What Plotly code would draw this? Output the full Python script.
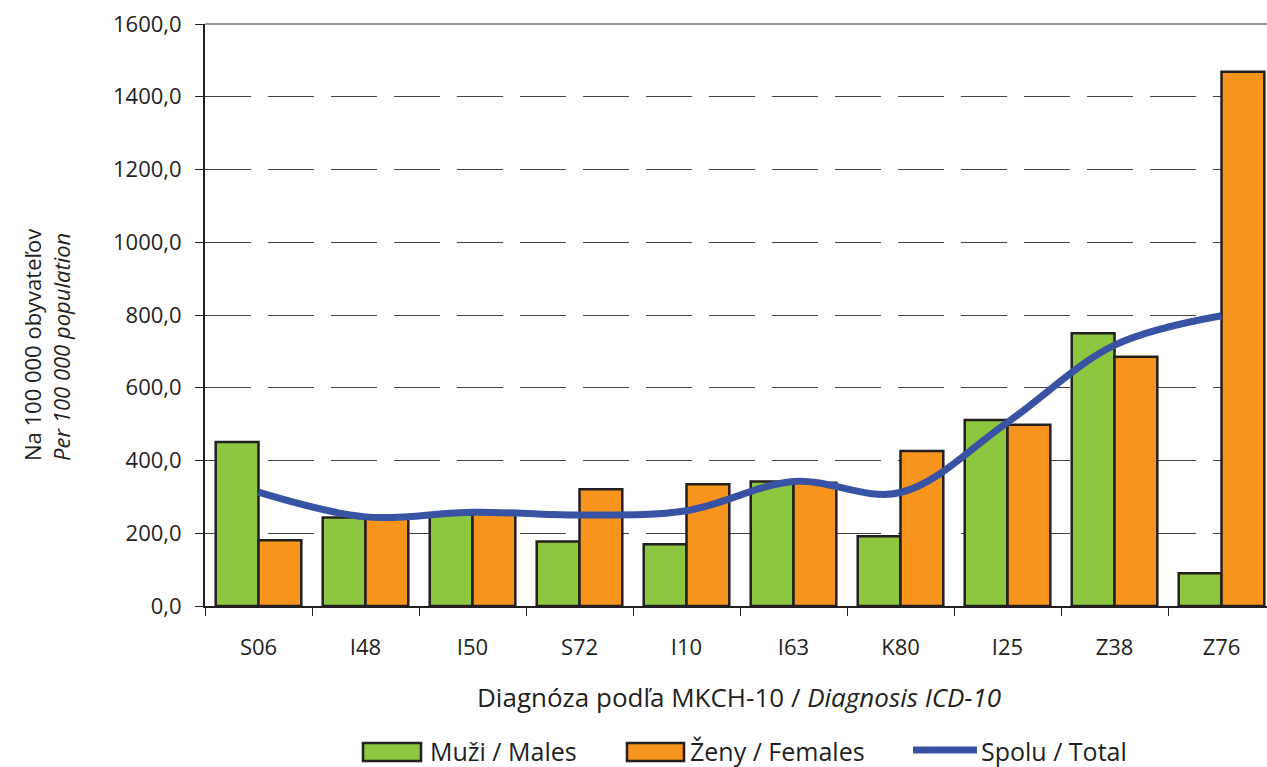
import plotly.graph_objects as go

diagnoses = ["S06", "I48", "I50", "S72", "I10", "I63", "K80", "I25", "Z38", "Z76"]
males = [451, 243, 252, 177, 170, 342, 192, 511, 750, 90]
females = [181, 240, 255, 321, 335, 339, 426, 498, 685, 1469]
total = [313, 245, 258, 250, 262, 342, 312, 505, 717, 798]
y_ticks = [0, 200, 400, 600, 800, 1000, 1200, 1400, 1600]

ink = "#231F20"
green = "#8DC63F"
orange = "#F7941D"
blue = "#3953A4"
family = "Open Sans, Lato, sans-serif"

W, H = 1267, 767
L, T, B = 205, 24, 161
plot_w, plot_h = W - L, H - T - B


def px_x(px):
    # page pixel -> paper x
    return (px - L) / plot_w


def px_y(py):
    return (H - B - py) / plot_h


fig = go.Figure()
fig.add_trace(go.Bar(
    x=diagnoses, y=males, name="Muži / Males",
    marker=dict(color=green, line=dict(color=ink, width=2.5)),
))
fig.add_trace(go.Bar(
    x=diagnoses, y=females, name="Ženy / Females",
    marker=dict(color=orange, line=dict(color=ink, width=2.5)),
))
fig.add_trace(go.Scatter(
    x=diagnoses, y=total, name="Spolu / Total", mode="lines",
    line=dict(color=blue, width=7, shape="spline", smoothing=1.0),
))

# hand-drawn legend (wide swatches like the original)
legend_items = [
    ("rect", green, 363, 421, 428, "Muži / Males"),
    ("rect", orange, 627, 684, 688, "Ženy / Females"),
    ("line", blue, 913, 977, 979, "Spolu / Total"),
]
shapes = [dict(type="line", xref="paper", yref="paper", x0=0, x1=1, y0=1, y1=1,
               line=dict(color="#9a9a9a", width=2))]
annotations = []
for kind, col, x0, x1, tx, label in legend_items:
    if kind == "rect":
        shapes.append(dict(type="rect", xref="paper", yref="paper",
                           x0=px_x(x0), x1=px_x(x1), y0=px_y(761), y1=px_y(743),
                           fillcolor=col, line=dict(color=ink, width=2.5)))
    else:
        shapes.append(dict(type="line", xref="paper", yref="paper",
                           x0=px_x(x0), x1=px_x(x1), y0=px_y(750), y1=px_y(750),
                           line=dict(color=col, width=7)))
    annotations.append(dict(text=label, xref="paper", yref="paper", x=px_x(tx), y=px_y(751),
                            xanchor="left", yanchor="middle", showarrow=False,
                            font=dict(size=25, color=ink, family=family)))

annotations.append(dict(
    text="Na 100 000 obyvateľov<br><i>Per 100 000 population</i>",
    xref="paper", yref="paper", x=px_x(46), y=px_y(463), textangle=-90, align="left",
    xanchor="center", yanchor="bottom", showarrow=False,
    font=dict(size=22, color=ink, family=family),
))
annotations.append(dict(
    text="Diagnóza podľa MKCH-10 / <i>Diagnosis ICD-10</i>",
    xref="paper", yref="paper", x=px_x(739), y=px_y(697),
    xanchor="center", yanchor="middle", showarrow=False,
    font=dict(size=26, color=ink, family=family),
))

fig.update_layout(
    width=W, height=H,
    margin=dict(l=L, r=0, t=T, b=B),
    paper_bgcolor="white", plot_bgcolor="white",
    font=dict(family=family, size=22, color=ink),
    separators=", ",
    barmode="group", bargap=0.2, bargroupgap=0,
    showlegend=False,
    shapes=shapes,
    annotations=annotations,
)
fig.update_xaxes(
    range=[-0.5, 9.425], showline=True, linecolor=ink, linewidth=2,
    ticks="outside", tickson="boundaries", ticklen=8, tickcolor=ink, tickwidth=1,
    ticklabelstandoff=21,
    showgrid=False,
)
fig.update_yaxes(
    range=[0, 1600], tickvals=y_ticks, tickformat=".1f",
    showline=True, linecolor=ink, linewidth=2,
    ticks="outside", ticklen=8, tickcolor=ink, tickwidth=1,
    ticklabelstandoff=9,
    showgrid=True, gridcolor="#444444", gridwidth=1.2, griddash="46px,17px",
    zeroline=False,
)

fig.write_html("out.html", config={"displayModeBar": False},
               post_script="document.body.style.margin='0';")
